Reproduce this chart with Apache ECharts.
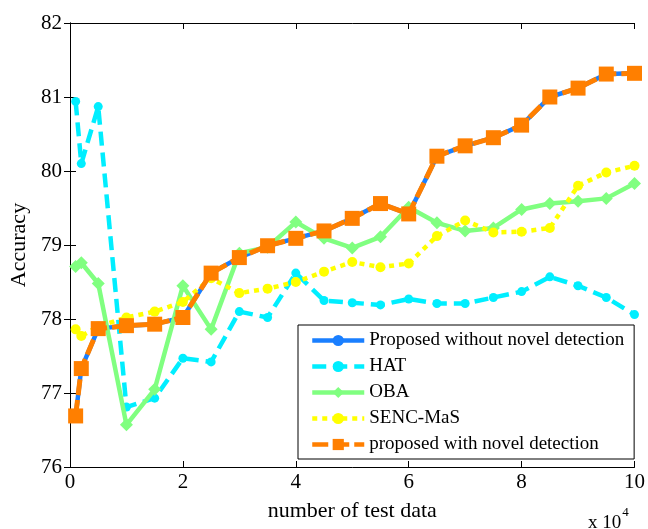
<!DOCTYPE html>
<html>
<head>
<meta charset="utf-8">
<script src="https://cdn.jsdelivr.net/npm/echarts@6/dist/echarts.min.js"></script>
<style>
html,body{margin:0;padding:0;background:#fff;}
#main{width:648px;height:529px;}
</style>
</head>
<body>
<div id="main"></div>
<script>
var xValues = [0.1, 0.2, 0.5, 1, 1.5, 2, 2.5, 3, 3.5, 4, 4.5, 5, 5.5, 6, 6.5, 7, 7.5, 8, 8.5, 9, 9.5, 10];
var proposedWithout = [76.69, 77.33, 77.87, 77.91, 77.93, 78.02, 78.62, 78.83, 78.99, 79.09, 79.19, 79.36, 79.56, 79.42, 80.20, 80.34, 80.45, 80.62, 81.00, 81.12, 81.31, 81.32];
var hat = [80.94, 80.10, 80.87, 76.81, 76.93, 77.47, 77.42, 78.10, 78.02, 78.62, 78.25, 78.22, 78.19, 78.27, 78.21, 78.21, 78.29, 78.37, 78.57, 78.45, 78.29, 78.06];
var oba = [78.71, 78.76, 78.48, 76.57, 77.05, 78.45, 77.86, 78.89, 78.97, 79.31, 79.09, 78.96, 79.11, 79.51, 79.30, 79.19, 79.23, 79.48, 79.56, 79.59, 79.63, 79.83];
var sencMaS = [77.86, 77.77, 77.90, 78.02, 78.10, 78.23, 78.55, 78.35, 78.41, 78.50, 78.64, 78.77, 78.70, 78.75, 79.12, 79.33, 79.17, 79.18, 79.23, 79.80, 79.98, 80.07];
var proposedWith = [76.69, 77.33, 77.87, 77.91, 77.93, 78.02, 78.62, 78.83, 78.99, 79.09, 79.19, 79.36, 79.56, 79.42, 80.20, 80.34, 80.45, 80.62, 81.00, 81.12, 81.31, 81.32];
var seriesNames = ['Proposed without novel detection', 'HAT', 'OBA', 'SENC-MaS', 'proposed with novel detection'];
var xTickLabels = ['0', '2', '4', '6', '8', '10'];
var yTickLabels = ['76', '77', '78', '79', '80', '81', '82'];

function pairs(arr) { return xValues.map(function (x, i) { return [x, arr[i]]; }); }

var FONT = '"Liberation Serif", "Times New Roman", serif';
var chart = echarts.init(document.getElementById('main'), null, {renderer: 'canvas'});
var option = {
  animation: false,
  backgroundColor: '#ffffff',
  grid: {left: 70, top: 23, right: 12, bottom: 62},
  xAxis: [{
    type: 'value', min: 0, max: 10, interval: 2,
    name: 'number of test data', nameLocation: 'middle', nameGap: 33,
    nameTextStyle: {fontFamily: FONT, fontSize: 22, color: '#000'},
    axisLine: {lineStyle: {color: '#000', width: 1}},
    axisTick: {inside: true, length: 6, lineStyle: {color: '#000'}},
    axisLabel: {fontFamily: FONT, fontSize: 21, color: '#000', margin: 5,
      formatter: function (v) { return xTickLabels[Math.round(v / 2)]; }},
    splitLine: {show: false}
  }, {
    type: 'value', min: 0, max: 10, interval: 2, position: 'top',
    axisLine: {lineStyle: {color: '#000', width: 1}},
    axisTick: {inside: true, length: 6, lineStyle: {color: '#000'}},
    axisLabel: {show: false}, splitLine: {show: false}
  }],
  yAxis: [{
    type: 'value', min: 76, max: 82, interval: 1,
    name: 'Accuracy', nameLocation: 'middle', nameGap: 37, nameRotate: 90,
    nameTextStyle: {fontFamily: FONT, fontSize: 22, color: '#000'},
    axisLine: {show: true, lineStyle: {color: '#000', width: 1}},
    axisTick: {show: true, inside: true, length: 6, lineStyle: {color: '#000'}},
    axisLabel: {fontFamily: FONT, fontSize: 21, color: '#000', margin: 8,
      formatter: function (v) { return yTickLabels[Math.round(v - 76)]; }},
    splitLine: {show: false}
  }, {
    type: 'value', min: 76, max: 82, interval: 1, position: 'right',
    axisLine: {show: true, lineStyle: {color: '#000', width: 1}},
    axisTick: {show: true, inside: true, length: 6, lineStyle: {color: '#000'}},
    axisLabel: {show: false}, splitLine: {show: false}
  }],
  legend: {
    left: 298, top: 325,
    orient: 'vertical',
    backgroundColor: '#fff',
    borderColor: '#000', borderWidth: 1,
    padding: [6, 10, 5, 12],
    itemGap: 7, itemWidth: 52, itemHeight: 14,
    lineStyle: {width: 4.5},
    textStyle: {fontFamily: FONT, fontSize: 19, color: '#000'},
    data: seriesNames
  },
  series: [{
    name: seriesNames[0], type: 'line', data: pairs(proposedWithout),
    color: '#1a7fff', symbol: 'circle', symbolSize: 9, z: 2,
    lineStyle: {width: 4.5, color: '#1a7fff'}, itemStyle: {color: '#1a7fff'}
  }, {
    name: seriesNames[1], type: 'line', data: pairs(hat),
    color: '#00eeff', symbol: 'circle', symbolSize: 9, z: 3,
    lineStyle: {width: 4.5, color: '#00eeff', type: [14, 7]}, itemStyle: {color: '#00eeff'}
  }, {
    name: seriesNames[2], type: 'line', data: pairs(oba),
    color: '#80ff80', symbol: 'diamond', symbolSize: 13, z: 4,
    lineStyle: {width: 4.5, color: '#80ff80'}, itemStyle: {color: '#80ff80'}
  }, {
    name: seriesNames[3], type: 'line', data: pairs(sencMaS),
    color: '#ffff00', symbol: 'circle', symbolSize: 10, z: 5,
    lineStyle: {width: 4.5, color: '#ffff00', type: [5, 5]}, itemStyle: {color: '#ffff00'}
  }, {
    name: seriesNames[4], type: 'line', data: pairs(proposedWith),
    color: '#ff7f00', symbol: 'rect', symbolSize: 15, z: 6,
    lineStyle: {width: 5, color: '#ff7f00', type: [16, 5]}, itemStyle: {color: '#ff7f00'}
  }],
  graphic: [{
    type: 'text', left: 588, top: 506,
    style: {
      text: '{a|x 10}{b|4}',
      rich: {
        a: {fontFamily: FONT, fontSize: 19, fill: '#000', padding: [8, 0, 0, 0]},
        b: {fontFamily: FONT, fontSize: 13, fill: '#000', verticalAlign: 'top', padding: [0, 0, 8, 1]}
      }
    }
  }]
};
chart.setOption(option);
</script>
</body>
</html>
